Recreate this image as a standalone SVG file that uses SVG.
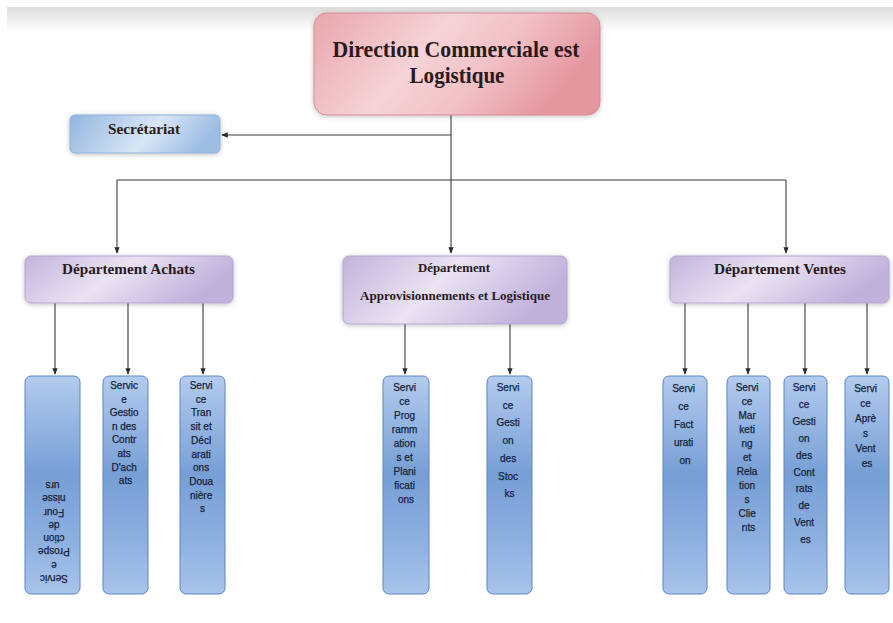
<svg xmlns="http://www.w3.org/2000/svg" width="893" height="623" viewBox="0 0 893 623">
  <style>
    .title { font-family: "Liberation Serif", "DejaVu Serif", serif; font-weight: bold; fill: #2a1a1c; text-anchor: middle; }
    .svc { font-family: "Liberation Sans", Arial, sans-serif; font-size: 10px; fill: #17223a; stroke: #17223a; stroke-width: 0.25; text-anchor: middle; }
    .link { fill: none; stroke: #3a3a3a; stroke-width: 1.1; }
    .dept { fill: url(#gDept); stroke: #b3a6cf; stroke-width: 1; }
    .svcbox { fill: url(#gSvc); stroke: #5e86bf; stroke-width: 1; }
  </style>
  <defs>
    <linearGradient id="gTop" x1="0" y1="0" x2="0" y2="1">
      <stop offset="0" stop-color="#dcdcdc"/>
      <stop offset="1" stop-color="#ffffff"/>
    </linearGradient>
    <linearGradient id="gMain" x1="0" y1="0" x2="1" y2="0.3">
      <stop offset="0" stop-color="#e9a6ad"/>
      <stop offset="0.45" stop-color="#f5d3d7"/>
      <stop offset="0.7" stop-color="#f1c1c6"/>
      <stop offset="1" stop-color="#e597a0"/>
    </linearGradient>
    <linearGradient id="gSec" x1="0" y1="0" x2="1" y2="0.2">
      <stop offset="0" stop-color="#92b6e0"/>
      <stop offset="0.6" stop-color="#d9e6f5"/>
      <stop offset="1" stop-color="#9dbde3"/>
    </linearGradient>
    <linearGradient id="gDept" x1="0" y1="0" x2="1" y2="0.3">
      <stop offset="0" stop-color="#c2b4dc"/>
      <stop offset="0.5" stop-color="#e9e3f3"/>
      <stop offset="1" stop-color="#c0b1db"/>
    </linearGradient>
    <linearGradient id="gSvc" x1="0" y1="0" x2="0" y2="1">
      <stop offset="0" stop-color="#b3cbee"/>
      <stop offset="0.45" stop-color="#779fd5"/>
      <stop offset="0.75" stop-color="#8dafe0"/>
      <stop offset="1" stop-color="#a9c4ea"/>
    </linearGradient>
    <filter id="soft" x="-10%" y="-20%" width="120%" height="140%">
      <feGaussianBlur in="SourceAlpha" stdDeviation="2.5"/>
      <feOffset dx="0" dy="1"/>
      <feComponentTransfer><feFuncA type="linear" slope="0.25"/></feComponentTransfer>
      <feMerge><feMergeNode/><feMergeNode in="SourceGraphic"/></feMerge>
    </filter>
    <marker id="arrow" viewBox="0 0 8 8" refX="7" refY="4" markerWidth="6" markerHeight="6" orient="auto">
      <path d="M0,0.8 L8,4 L0,7.2 z" fill="#2a2a2a"/>
    </marker>
  </defs>

  <rect width="893" height="623" fill="#ffffff"/>
  <rect x="7" y="7" width="886" height="24" fill="url(#gTop)"/>

  <!-- connectors -->
  <g id="connectors">
    <path class="link" d="M451,115 V253" marker-end="url(#arrow)"/>
    <path class="link" d="M451,135 H222" marker-end="url(#arrow)"/>
    <path class="link" d="M117,180 H786"/>
    <path class="link" d="M117,180 V253" marker-end="url(#arrow)"/>
    <path class="link" d="M786,180 V253" marker-end="url(#arrow)"/>
    <path class="link" d="M55,303 V374" marker-end="url(#arrow)"/>
    <path class="link" d="M128,303 V374" marker-end="url(#arrow)"/>
    <path class="link" d="M203,303 V374" marker-end="url(#arrow)"/>
    <path class="link" d="M405,324 V374" marker-end="url(#arrow)"/>
    <path class="link" d="M510,324 V374" marker-end="url(#arrow)"/>
    <path class="link" d="M685,303 V374" marker-end="url(#arrow)"/>
    <path class="link" d="M748,303 V374" marker-end="url(#arrow)"/>
    <path class="link" d="M805,303 V374" marker-end="url(#arrow)"/>
    <path class="link" d="M867,303 V374" marker-end="url(#arrow)"/>
  </g>

  <!-- top management -->
  <g id="direction">
    <rect x="314" y="13" width="286" height="102" rx="13" fill="url(#gMain)" stroke="#d78b94" stroke-width="1" filter="url(#soft)"/>
    <text class="title" x="456" y="57" font-size="23" textLength="247" lengthAdjust="spacingAndGlyphs">Direction Commerciale est</text>
    <text class="title" x="457" y="83" font-size="23" textLength="95" lengthAdjust="spacingAndGlyphs">Logistique</text>
  </g>

  <g id="secretariat">
    <rect x="70" y="115" width="150" height="38" rx="5" fill="url(#gSec)" stroke="#8eb0d9" stroke-width="1" filter="url(#soft)"/>
    <text class="title" x="144" y="134" font-size="14" textLength="72" lengthAdjust="spacingAndGlyphs">Secrétariat</text>
  </g>

  <!-- departments -->
  <g id="dept-achats">
    <rect class="dept" x="25" y="256" width="208" height="47" rx="6" filter="url(#soft)"/>
    <text class="title" x="128.5" y="274" font-size="14" textLength="133" lengthAdjust="spacingAndGlyphs">Département Achats</text>
  </g>
  <g id="dept-appro">
    <rect class="dept" x="343" y="256" width="224" height="68" rx="6" filter="url(#soft)"/>
    <text class="title" x="454" y="272" font-size="12" textLength="72" lengthAdjust="spacingAndGlyphs">Département</text>
    <text class="title" x="455" y="300" font-size="12.5" textLength="190" lengthAdjust="spacingAndGlyphs">Approvisionnements et Logistique</text>
  </g>
  <g id="dept-ventes">
    <rect class="dept" x="670" y="256" width="219" height="47" rx="6" filter="url(#soft)"/>
    <text class="title" x="780" y="274" font-size="14" textLength="132" lengthAdjust="spacingAndGlyphs">Département Ventes</text>
  </g>

  <!-- services: Achats -->
  <g id="svc-prospection">
    <rect class="svcbox" x="25" y="376" width="55" height="218" rx="6"/>
    <text class="svc" transform="rotate(180 52.5 530)">
      <tspan x="52.5" y="485">Servic</tspan>
      <tspan x="52.5" dy="13.3">e</tspan>
      <tspan x="52.5" dy="13.3">Prospe</tspan>
      <tspan x="52.5" dy="13.3">ction</tspan>
      <tspan x="52.5" dy="13.3">de</tspan>
      <tspan x="52.5" dy="13.3">Four</tspan>
      <tspan x="52.5" dy="13.3">nisse</tspan>
      <tspan x="52.5" dy="13.3">urs</tspan>
    </text>
  </g>
  <g id="svc-contrats-achats">
    <rect class="svcbox" x="103" y="376" width="45" height="218" rx="6"/>
    <text class="svc">
      <tspan x="125.5" y="389">Servic</tspan>
      <tspan x="125.5" dy="13.6">e</tspan>
      <tspan x="125.5" dy="13.6">Gestio</tspan>
      <tspan x="125.5" dy="13.6">n des</tspan>
      <tspan x="125.5" dy="13.6">Contr</tspan>
      <tspan x="125.5" dy="13.6">ats</tspan>
      <tspan x="125.5" dy="13.6">D'ach</tspan>
      <tspan x="125.5" dy="13.6">ats</tspan>
    </text>
  </g>
  <g id="svc-transit">
    <rect class="svcbox" x="180" y="376" width="45" height="218" rx="6"/>
    <text class="svc">
      <tspan x="202.5" y="389">Servi</tspan>
      <tspan x="202.5" dy="13.7">ce</tspan>
      <tspan x="202.5" dy="13.7">Tran</tspan>
      <tspan x="202.5" dy="13.7">sit et</tspan>
      <tspan x="202.5" dy="13.7">Décl</tspan>
      <tspan x="202.5" dy="13.7">arati</tspan>
      <tspan x="202.5" dy="13.7">ons</tspan>
      <tspan x="202.5" dy="13.7">Doua</tspan>
      <tspan x="202.5" dy="13.7">nière</tspan>
      <tspan x="202.5" dy="13.7">s</tspan>
    </text>
  </g>

  <!-- services: Approvisionnements -->
  <g id="svc-programmation">
    <rect class="svcbox" x="383" y="376" width="46" height="218" rx="6"/>
    <text class="svc">
      <tspan x="406" y="391">Servi</tspan>
      <tspan x="406" dy="14">ce</tspan>
      <tspan x="406" dy="14">Prog</tspan>
      <tspan x="406" dy="14">ramm</tspan>
      <tspan x="406" dy="14">ation</tspan>
      <tspan x="406" dy="14">s et</tspan>
      <tspan x="406" dy="14">Plani</tspan>
      <tspan x="406" dy="14">ficati</tspan>
      <tspan x="406" dy="14">ons</tspan>
    </text>
  </g>
  <g id="svc-stocks">
    <rect class="svcbox" x="487" y="376" width="45" height="218" rx="6"/>
    <text class="svc">
      <tspan x="509.5" y="391">Servi</tspan>
      <tspan x="509.5" dy="17.7">ce</tspan>
      <tspan x="509.5" dy="17.7">Gesti</tspan>
      <tspan x="509.5" dy="17.7">on</tspan>
      <tspan x="509.5" dy="17.7">des</tspan>
      <tspan x="509.5" dy="17.7">Stoc</tspan>
      <tspan x="509.5" dy="17.7">ks</tspan>
    </text>
  </g>

  <!-- services: Ventes -->
  <g id="svc-facturation">
    <rect class="svcbox" x="663" y="376" width="44" height="218" rx="6"/>
    <text class="svc">
      <tspan x="685" y="392">Servi</tspan>
      <tspan x="685" dy="18">ce</tspan>
      <tspan x="685" dy="18">Fact</tspan>
      <tspan x="685" dy="18">urati</tspan>
      <tspan x="685" dy="18">on</tspan>
    </text>
  </g>
  <g id="svc-marketing">
    <rect class="svcbox" x="727" y="376" width="43" height="218" rx="6"/>
    <text class="svc">
      <tspan x="748.5" y="391">Servi</tspan>
      <tspan x="748.5" dy="14">ce</tspan>
      <tspan x="748.5" dy="14">Mar</tspan>
      <tspan x="748.5" dy="14">keti</tspan>
      <tspan x="748.5" dy="14">ng</tspan>
      <tspan x="748.5" dy="14">et</tspan>
      <tspan x="748.5" dy="14">Rela</tspan>
      <tspan x="748.5" dy="14">tion</tspan>
      <tspan x="748.5" dy="14">s</tspan>
      <tspan x="748.5" dy="14">Clie</tspan>
      <tspan x="748.5" dy="14">nts</tspan>
    </text>
  </g>
  <g id="svc-contrats-ventes">
    <rect class="svcbox" x="784" y="376" width="43" height="218" rx="6"/>
    <text class="svc">
      <tspan x="805.5" y="391">Servi</tspan>
      <tspan x="805.5" dy="16.9">ce</tspan>
      <tspan x="805.5" dy="16.9">Gesti</tspan>
      <tspan x="805.5" dy="16.9">on</tspan>
      <tspan x="805.5" dy="16.9">des</tspan>
      <tspan x="805.5" dy="16.9">Cont</tspan>
      <tspan x="805.5" dy="16.9">rats</tspan>
      <tspan x="805.5" dy="16.9">de</tspan>
      <tspan x="805.5" dy="16.9">Vent</tspan>
      <tspan x="805.5" dy="16.9">es</tspan>
    </text>
  </g>
  <g id="svc-apres-ventes">
    <rect class="svcbox" x="845" y="376" width="44" height="218" rx="6"/>
    <text class="svc">
      <tspan x="867" y="392">Servi</tspan>
      <tspan x="867" dy="15">ce</tspan>
      <tspan x="867" dy="15">Aprè</tspan>
      <tspan x="867" dy="15">s</tspan>
      <tspan x="867" dy="15">Vent</tspan>
      <tspan x="867" dy="15">es</tspan>
    </text>
  </g>
</svg>
